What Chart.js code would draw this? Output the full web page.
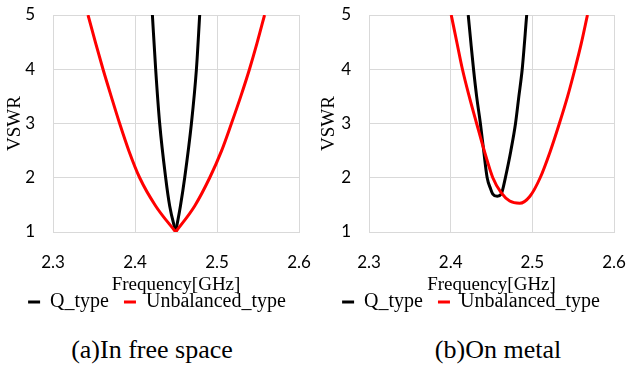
<!DOCTYPE html>
<html>
<head>
<meta charset="utf-8">
<script src="https://cdn.jsdelivr.net/npm/chart.js@4/dist/chart.umd.min.js"></script>
<style>
  html, body { margin: 0; padding: 0; background: #fff; }
  body { width: 628px; height: 365px; position: relative; overflow: hidden; }
  .panel { position: absolute; top: 0; width: 314px; height: 322px; }
  .caption { position: absolute; top: 335px; width: 300px; text-align: center; line-height: 30px;
             font-family: "Liberation Serif", serif; font-size: 26px; color: #000; }
</style>
</head>
<body>
<div class="panel" style="left:0"><canvas id="chartA"></canvas></div>
<div class="panel" style="left:314px"><canvas id="chartB"></canvas></div>
<div class="caption" style="left:2px">(a)In free space</div>
<div class="caption" style="left:348px">(b)On metal</div>
<script>
// (a) in free space
const freeQFreq = [2.4212, 2.4252, 2.4301, 2.4374, 2.4423, 2.4496, 2.4554, 2.4606, 2.4688, 2.4749, 2.4789];
const freeQVswr = [5, 4, 3, 2, 1.48, 1.0, 1.48, 2, 3, 4, 5];
const freeUFreq = [2.3427, 2.3520, 2.3610, 2.3710, 2.3813, 2.3927, 2.4057, 2.4252, 2.4496, 2.4728, 2.4911, 2.5054, 2.5176, 2.5290, 2.5396, 2.5488, 2.5580];
const freeUVswr = [5, 4.48, 4, 3.5, 3, 2.49, 2, 1.48, 1.0, 1.48, 2, 2.49, 3, 3.5, 4, 4.48, 5];

// (b) on metal
const metalQFreq = [2.4215, 2.4248, 2.4280, 2.4318, 2.4364, 2.4405, 2.4447, 2.4488, 2.4516, 2.4571, 2.4620, 2.4640, 2.4670, 2.4736, 2.4794, 2.4835, 2.4876, 2.4931];
const metalQVswr = [5, 4.48, 4, 3.5, 3, 2.49, 2, 1.8, 1.7, 1.66, 1.7, 1.8, 2, 2.49, 3, 3.5, 4, 5];
const metalUFreq = [2.4007, 2.4078, 2.4144, 2.4227, 2.4318, 2.4413, 2.4516, 2.4620, 2.4723, 2.4845, 2.4971, 2.5096, 2.5220, 2.5331, 2.5432, 2.5521, 2.5600, 2.5675];
const metalUVswr = [5, 4.48, 4, 3.5, 3, 2.49, 2, 1.72, 1.57, 1.53, 1.66, 2, 2.49, 3, 3.5, 4, 4.48, 5];

const seriesNames = ["Q_type", "Unbalanced_type"];
const seriesColors = ["#000000", "#ff0000"];
const xTicks = [2.3, 2.4, 2.5, 2.6];
const yTicks = [1, 2, 3, 4, 5];

function pts(xs, ys, from, to) {
    const out = [];
    for (let i = from; i <= to; i++) out.push({ x: xs[i], y: ys[i] });
    return out;
}

// sharpV: the dip is a corner, so each branch gets its own line
function buildSets(series, sharpV) {
    const sets = [];
    series.forEach((s, i) => {
        const base = {
            label: seriesNames[i],
            borderColor: seriesColors[i],
            backgroundColor: seriesColors[i],
            borderWidth: 3,
            pointRadius: 0,
            cubicInterpolationMode: "monotone",
            order: i === 0 ? 1 : 0
        };
        const n = s[0].length;
        if (sharpV) {
            const m = s[1].indexOf(Math.min(...s[1]));
            sets.push(Object.assign({}, base, { data: pts(s[0], s[1], 0, m) }));
            sets.push(Object.assign({}, base, { data: pts(s[0], s[1], m, n - 1), branch: true }));
        } else {
            sets.push(Object.assign({}, base, { data: pts(s[0], s[1], 0, n - 1) }));
        }
    });
    return sets;
}

function makeChart(id, series, sharpV, yWidth, rightPad) {
    const tickFont = { family: "Lato", size: 17 };
    const titleFont = { family: "Liberation Serif", size: 19 };
    const legendFont = { family: "Liberation Serif", size: 20 };
    const gridColor = "#d9d9d9";
    return new Chart(document.getElementById(id), {
        type: "line",
        data: { datasets: buildSets(series, sharpV) },
        options: {
            responsive: true,
            maintainAspectRatio: false,
            animation: false,
            layout: { padding: 0 },
            plugins: {
                tooltip: { enabled: false },
                legend: {
                    position: "bottom",
                    labels: {
                        usePointStyle: true,
                        pointStyle: "line",
                        pointStyleWidth: 12,
                        padding: 15,
                        color: "#000",
                        font: legendFont,
                        filter: (item, data) => !data.datasets[item.datasetIndex].branch,
                        sort: (a, b) => a.datasetIndex - b.datasetIndex
                    }
                }
            },
            scales: {
                x: {
                    type: "linear",
                    min: xTicks[0],
                    max: xTicks[xTicks.length - 1],
                    afterBuildTicks: s => { s.ticks = xTicks.map(v => ({ value: v })); },
                    afterFit: s => { s.height = 45; s.paddingLeft = 0; s.paddingRight = rightPad; },
                    ticks: {
                        callback: v => v.toFixed(1),
                        font: tickFont, color: "#000", padding: 20, maxRotation: 0
                    },
                    grid: { color: gridColor, drawTicks: false },
                    border: { color: gridColor },
                    title: { display: true, text: "Frequency[GHz]", font: titleFont, color: "#000",
                             padding: { top: 0, bottom: -19 } }
                },
                y: {
                    min: yTicks[0],
                    max: yTicks[yTicks.length - 1],
                    afterBuildTicks: s => { s.ticks = yTicks.map(v => ({ value: v })); },
                    afterFit: s => { s.width = yWidth; s.paddingTop = 15; s.paddingBottom = 0; },
                    ticks: { font: tickFont, color: "#000", padding: 18 },
                    grid: { color: gridColor, drawTicks: false },
                    border: { color: gridColor },
                    title: { display: true, text: "VSWR", font: titleFont, color: "#000",
                             padding: { top: 4, bottom: 0 } }
                }
            }
        }
    });
}

makeChart("chartA", [[freeQFreq, freeQVswr], [freeUFreq, freeUVswr]], true, 53, 15);
makeChart("chartB", [[metalQFreq, metalQVswr], [metalUFreq, metalUVswr]], false, 55, 14);
</script>
</body>
</html>
